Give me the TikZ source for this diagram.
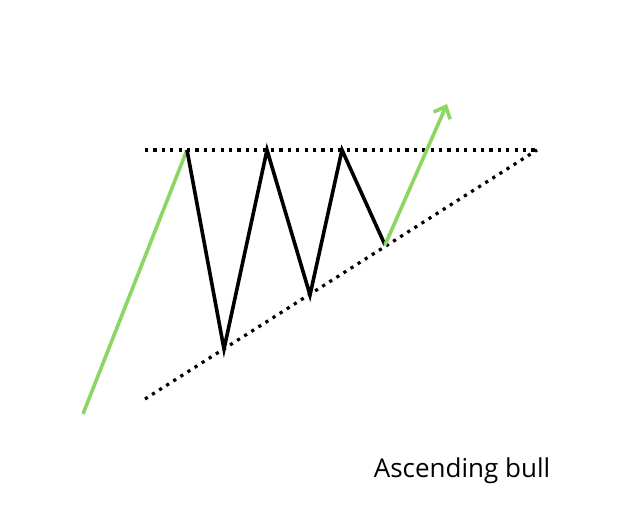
\documentclass[tikz,border=0pt]{standalone}
\usepackage{fontspec}
\setmainfont{Open Sans}
\usetikzlibrary{arrows.meta}
\begin{document}
\begin{tikzpicture}[x=0.5pt,y=-0.5pt,
  grn/.style={draw={rgb,255:red,140;green,214;blue,100},line width=1.8pt},
  zig/.style={draw=black,line width=1.8pt,line join=miter},
  dots/.style={draw=black,line width=1.6pt,dash pattern=on 1.6pt off 2.6pt}]
\useasboundingbox (0,0) rectangle (623,522);
\fill[white] (0,0) rectangle (623,522);
\coordinate (s) at (83,414);
\coordinate (p1) at (187,150);
\coordinate (t1) at (224,349);
\coordinate (p2) at (267,150);
\coordinate (t2) at (310,295);
\coordinate (p3) at (342,150);
\coordinate (t3) at (385,245);
\coordinate (e) at (447,104);
\coordinate (ra) at (145,150);
\coordinate (rb) at (537,150);
\coordinate (sa) at (145,399);
\draw[dots] (ra) -- (rb);
\draw[dots] (sa) -- (rb);
\draw[grn] (s) -- (p1);
\draw[zig] (p1) -- (t1) -- (p2) -- (t2) -- (p3) -- (t3);
\draw[grn,-{Straight Barb[length=5pt,width=9pt]}] (t3) -- (e);
\node[font=\fontsize{13}{15}\selectfont] (lbl) at (462,471) {Ascending bull};
\end{tikzpicture}
\end{document}
